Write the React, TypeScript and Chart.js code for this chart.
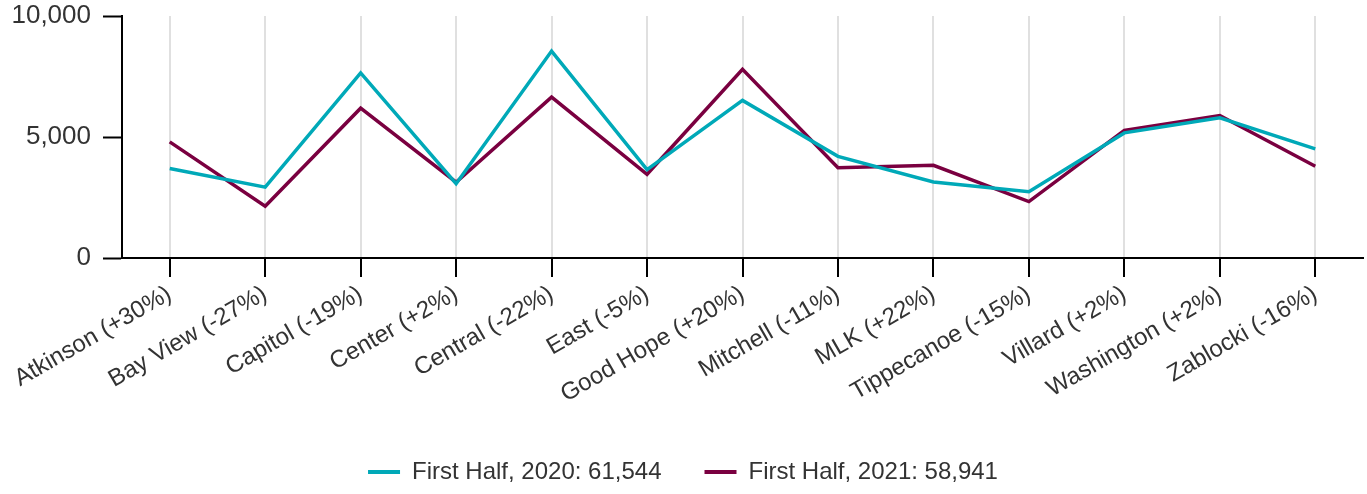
import React, { useEffect, useRef } from "react";
import { Chart, registerables } from "chart.js";

Chart.register(...registerables);

const categories = [
  "Atkinson (+30%)",
  "Bay View (-27%)",
  "Capitol (-19%)",
  "Center (+2%)",
  "Central (-22%)",
  "East (-5%)",
  "Good Hope (+20%)",
  "Mitchell (-11%)",
  "MLK (+22%)",
  "Tippecanoe (-15%)",
  "Villard (+2%)",
  "Washington (+2%)",
  "Zablocki (-16%)",
];

const firstHalf2020 = [3700, 2930, 7650, 3070, 8550, 3650, 6510, 4200, 3140, 2740, 5170, 5790, 4510];
const firstHalf2021 = [4800, 2140, 6190, 3130, 6650, 3460, 7800, 3730, 3830, 2330, 5270, 5890, 3790];

const seriesLabels = ["First Half, 2020: 61,544", "First Half, 2021: 58,941"];
const yTicks = [0, 5000, 10000];

const TEAL = "#00A9B8";
const MAROON = "#7A0040";
const FONT = "'Liberation Sans', Arial, Helvetica, sans-serif";
const TEXT = "#333333";

export default function App() {
  const ref = useRef<HTMLCanvasElement | null>(null);

  useEffect(() => {
    if (!ref.current) return;
    const chart = new Chart(ref.current, {
      type: "line",
      data: {
        labels: categories,
        datasets: [
          {
            label: seriesLabels[0],
            data: firstHalf2020,
            borderColor: TEAL,
            backgroundColor: TEAL,
            borderWidth: 3.5,
            pointRadius: 0,
            tension: 0,
          },
          {
            label: seriesLabels[1],
            data: firstHalf2021,
            borderColor: MAROON,
            backgroundColor: MAROON,
            borderWidth: 3.5,
            pointRadius: 0,
            tension: 0,
          },
        ],
      },
      options: {
        animation: false,
        responsive: false,
        layout: { padding: { left: 3, right: 4, top: 16, bottom: 0 } },
        plugins: {
          tooltip: { enabled: false },
          legend: {
            position: "bottom",
            labels: {
              color: TEXT,
              font: { family: FONT, size: 24 },
              boxWidth: 32,
              boxHeight: 4,
              padding: 43,
              generateLabels: (c: any) =>
                (Chart.defaults.plugins.legend.labels as any)
                  .generateLabels(c)
                  .map((l: any) => ({ ...l, lineWidth: 0, fillStyle: l.strokeStyle })),
            },
          },
        },
        scales: {
          x: {
            offset: true,
            afterFit: (axis: any) => {
              axis.paddingLeft = 0;
              axis.paddingRight = 0;
              axis.height = 159;
            },
            grid: {
              offset: false,
              color: "#e0e0e0",
              lineWidth: 2,
              tickColor: "#000",
              tickWidth: 2,
              tickLength: 19,
            },
            border: { color: "#000", width: 2 },
            ticks: {
              color: TEXT,
              font: { family: FONT, size: 24 },
              minRotation: 30,
              maxRotation: 30,
              padding: 3,
              autoSkip: false,
            },
          },
          y: {
            min: 0,
            max: 10000,
            afterBuildTicks: (axis: any) => {
              axis.ticks = yTicks.map((v) => ({ value: v }));
            },
            afterFit: (axis: any) => {
              axis.paddingTop = 0;
              axis.paddingBottom = 0;
              axis.width = 119;
            },
            grid: {
              drawOnChartArea: false,
              tickColor: "#000",
              tickWidth: 2,
              tickLength: 19,
            },
            border: { color: "#000", width: 2 },
            ticks: {
              color: TEXT,
              font: { family: FONT, size: 26 },
              padding: 12,
              callback: (v: any) => Number(v).toLocaleString("en-US"),
            },
          },
        },
      },
    });
    return () => chart.destroy();
  }, []);

  return (
    <div style={{ position: "absolute", left: 0, top: 0, width: 1367, height: 494, background: "#fff" }}>
      <canvas ref={ref} width={1367} height={494} style={{ display: "block" }} />
    </div>
  );
}
